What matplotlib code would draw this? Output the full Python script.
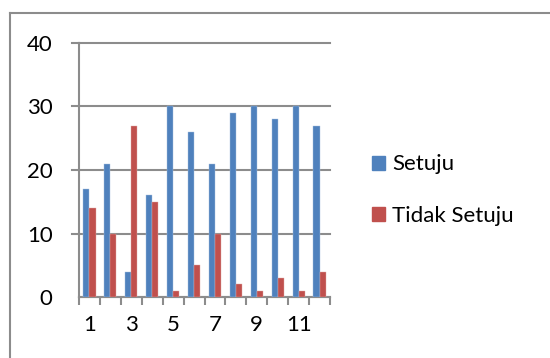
import numpy as np
import matplotlib
matplotlib.use("Agg")
import matplotlib.pyplot as plt
from matplotlib.patches import Patch

# survey answers per statement
labels = ['1', '2', '3', '4', '5', '6', '7', '8', '9', '10', '11', '12']
setuju = [17, 21, 4, 16, 30, 26, 21, 29, 30, 28, 30, 27]
tidak_setuju = [14, 10, 27, 15, 1, 5, 10, 2, 1, 3, 1, 4]

plt.rcParams['font.family'] = ['Lato', 'DejaVu Sans']

blue = '#4F81BD'
red = '#C0504D'
grey = '#8C8C8C'
fs = 16

fig = plt.figure(figsize=(5.5, 3.58), dpi=100)
ax = fig.add_axes([79 / 550, 1 - 297 / 358, 251 / 550, 254 / 358])

x = np.arange(len(labels))
w = 0.29
ax.bar(x - w / 2, setuju, width=w, color=blue, edgecolor='#A7C0DE', linewidth=0.3, zorder=3)
ax.bar(x + w / 2, tidak_setuju, width=w, color=red, edgecolor='#E0A9A7', linewidth=0.3, zorder=3)

ax.set_xlim(-0.5, len(labels) - 0.5)
ax.set_ylim(0, 40)
ax.set_yticks([0, 10, 20, 30, 40])
ax.grid(axis='y', color=grey, linewidth=1.5, zorder=0, clip_on=False)
for gy in [10, 20, 30, 40]:
    ax.plot([-0.83, -0.5], [gy, gy], color=grey, linewidth=1.5, clip_on=False, zorder=1)

# category boundaries as ticks, labels on odd categories only
ax.set_xticks(np.arange(-0.5, len(labels), 1.0))
ax.set_xticklabels([])
ax.set_xticks(x[::2], labels=labels[::2], minor=True)
ax.tick_params(axis='x', which='major', direction='out', length=6, width=1.5, color=grey)
ax.tick_params(axis='x', which='minor', length=0, pad=13, labelsize=fs)
ax.tick_params(axis='y', length=0, pad=19, labelsize=fs)

for s in ['top', 'right']:
    ax.spines[s].set_visible(False)
for s in ['left', 'bottom']:
    ax.spines[s].set_color(grey)
    ax.spines[s].set_linewidth(1.5)

handles = [Patch(color=blue, label='Setuju'), Patch(color=red, label='Tidak Setuju')]
fig.legend(handles=handles, loc='center left', bbox_to_anchor=(352 / 550, 1 - 190 / 358),
           frameon=False, fontsize=fs, handlelength=0.6, handleheight=0.6,
           handletextpad=0.3, labelspacing=1.4)

# outer chart frame
fig.add_artist(plt.Line2D([9.5 / 550, 9.5 / 550], [0, 1 - 12.5 / 358], color=grey, linewidth=1.5))
fig.add_artist(plt.Line2D([9.5 / 550, 1], [1 - 12.5 / 358, 1 - 12.5 / 358], color=grey, linewidth=1.5))

fig.savefig('out.png', dpi=100)
